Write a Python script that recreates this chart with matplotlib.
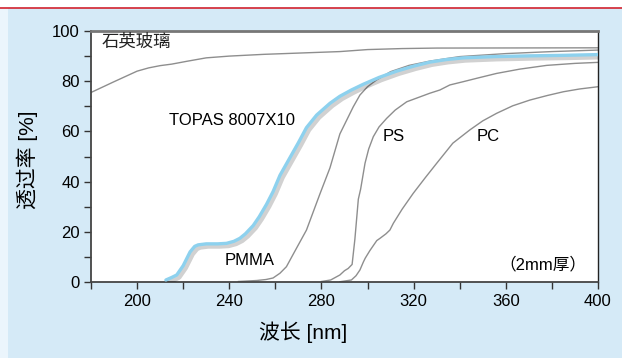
import matplotlib
matplotlib.use("Agg")
import matplotlib.pyplot as plt
import matplotlib.patheffects as pe
from matplotlib.patches import Rectangle
from matplotlib.lines import Line2D
from matplotlib.ticker import FixedLocator

plt.rcParams['font.family'] = ['Liberation Sans', 'Noto Sans CJK SC']

# wavelength [nm] / transmittance [%]
quartz_nm = [180, 190, 200, 205, 210, 215, 222, 230, 240, 255, 270, 288, 300, 315, 330, 400]
quartz_t = [75.5, 79.8, 84, 85.3, 86.2, 86.8, 88, 89.3, 90, 90.7, 91.2, 91.8, 92.6, 93, 93.2, 93.3]

topas_nm = [212.5, 215, 217.2, 220, 223, 225, 226.5, 230, 235, 238.8, 242, 244.6, 247, 250.4,
            253, 256.2, 259, 262, 266, 270, 273.5, 277.9, 283.7, 288, 293, 298.2, 305, 312.6,
            320, 327, 334, 341.5, 355, 370.5, 385, 400]
topas_t = [0.8, 1.8, 2.8, 6.5, 12.0, 14.2, 14.8, 15.2, 15.2, 15.4, 16.2, 17.4, 19.2, 22.5,
           26, 31, 36, 42.5, 49, 55.5, 61.5, 66.5, 71.2, 74, 76.5, 78.8, 81.5, 84,
           86, 87.6, 88.6, 89.3, 89.8, 90.1, 90.3, 90.6]

pmma_nm = [244, 252, 256, 259, 262, 264.8, 268, 273.5, 279.3, 283.7, 288, 293.8, 296.7, 300,
           303.9, 310, 318, 327, 340, 360, 380, 400]
pmma_t = [0.2, 0.6, 1.0, 1.6, 3.5, 6.1, 11.5, 20.7, 35, 45.5, 59, 69.8, 74.5, 77.8,
          80.5, 83.8, 86.3, 88, 89.8, 91, 91.8, 92.4]

ps_nm = [280, 284, 288, 290, 291.6, 293.3, 294.5, 296, 297, 298.9, 300.5, 302.5, 305, 308.3,
         312, 317, 322, 327, 331.4, 335.7, 341.5, 348, 356, 366, 377.7, 390, 400]
ps_t = [0.2, 0.8, 2.8, 4.5, 5.4, 7.0, 17, 33, 37, 47.3, 53, 57.9, 61.8, 65.2,
        68.5, 71.8, 73.5, 75.2, 76.5, 78.5, 79.8, 81.3, 83.1, 84.8, 86.3, 87.1, 87.5]

pc_nm = [288, 293, 295, 296.7, 298.2, 299, 301, 304, 305.4, 308, 309.7, 311.2, 315, 319.8,
         325, 330, 337, 344.4, 350, 356, 363, 370.5, 378, 385, 392, 400]
pc_t = [0.1, 0.8, 2.5, 4.8, 8, 9.5, 12.5, 16.5, 17.4, 19.2, 20.7, 23.4, 29, 35.3,
        41.5, 47.3, 55.3, 60.6, 64.2, 67.2, 70.2, 72.5, 74.3, 75.8, 76.9, 77.8]

x_major = [200, 240, 280, 320, 360, 400]
x_minor = [180, 220, 260, 300, 340, 380]
y_major = [0, 20, 40, 60, 80, 100]
y_minor = [10, 30, 50, 70, 90]

W, H = 622, 358
fig = plt.figure(figsize=(W / 100, H / 100), dpi=100)
fig.patch.set_facecolor('#d5eaf7')

# page decoration: white top band, red rule, pale strip on the left
fig.patches.append(Rectangle((0, 1 - 7.5 / H), 1, 7.5 / H, transform=fig.transFigure,
                             facecolor='white', edgecolor='none', zorder=0))
fig.patches.append(Rectangle((0, 0), 8 / W, 1 - 7.5 / H, transform=fig.transFigure,
                             facecolor='#ebf5fc', edgecolor='none', zorder=0))
fig.lines.append(Line2D([0, 1], [1 - 7.5 / H] * 2, transform=fig.transFigure,
                        color='#d2232f', lw=1.2))

ax = fig.add_axes([91 / W, 1 - 282 / H, (598 - 91) / W, (282 - 31) / H])
ax.set_facecolor('white')

gray = '#8e8e8e'
for xs, ys in [(quartz_nm, quartz_t), (pmma_nm, pmma_t), (ps_nm, ps_t), (pc_nm, pc_t)]:
    ax.plot(xs, ys, color=gray, lw=1.0, zorder=2)

ax.plot(topas_nm, topas_t, color='#8dd1ee', lw=2.4, zorder=3, solid_capstyle='round',
        path_effects=[pe.SimpleLineShadow(offset=(1.5, -1.5), shadow_color='black',
                                          alpha=0.18, linewidth=4.0),
                      pe.Normal()])

ax.set_xlim(180, 400)
ax.set_ylim(0, 100)
ax.xaxis.set_major_locator(FixedLocator(x_major))
ax.xaxis.set_minor_locator(FixedLocator(x_minor))
ax.yaxis.set_major_locator(FixedLocator(y_major))
ax.yaxis.set_minor_locator(FixedLocator(y_minor))
ax.tick_params(which='both', direction='out', length=5, width=1.0, color='#333333',
               labelsize=12, labelcolor='black')
ax.tick_params(axis='x', pad=4)
ax.tick_params(axis='y', pad=3)

for side in ['left', 'bottom']:
    ax.spines[side].set_color('#444444')
    ax.spines[side].set_linewidth(1.3)
ax.spines['top'].set_color('#777777')
ax.spines['top'].set_linewidth(2.0)
ax.spines['right'].set_color('#222222')
ax.spines['right'].set_linewidth(1.0)

ax.set_xlabel('波长 [nm]', fontsize=15)
ax.xaxis.set_label_coords(0.418, -0.158)
ax.set_ylabel('透过率 [%]', fontsize=15)
ax.yaxis.set_label_coords(-0.105, 0.486)

ax.text(184.6, 95.7, '石英玻璃', fontsize=12.5, va='center', ha='left', color='#222222')
ax.text(214, 64.5, 'TOPAS 8007X10', fontsize=12, ha='left', va='center')
ax.text(306.7, 57.9, 'PS', fontsize=12, ha='left', va='center')
ax.text(347.5, 57.9, 'PC', fontsize=12, ha='left', va='center')
ax.text(238.1, 8.4, 'PMMA', fontsize=12, ha='left', va='center')
ax.text(395, 6.8, '（2mm厚）', fontsize=12, ha='right', va='center')

fig.savefig('out.png', dpi=100, facecolor=fig.get_facecolor())
